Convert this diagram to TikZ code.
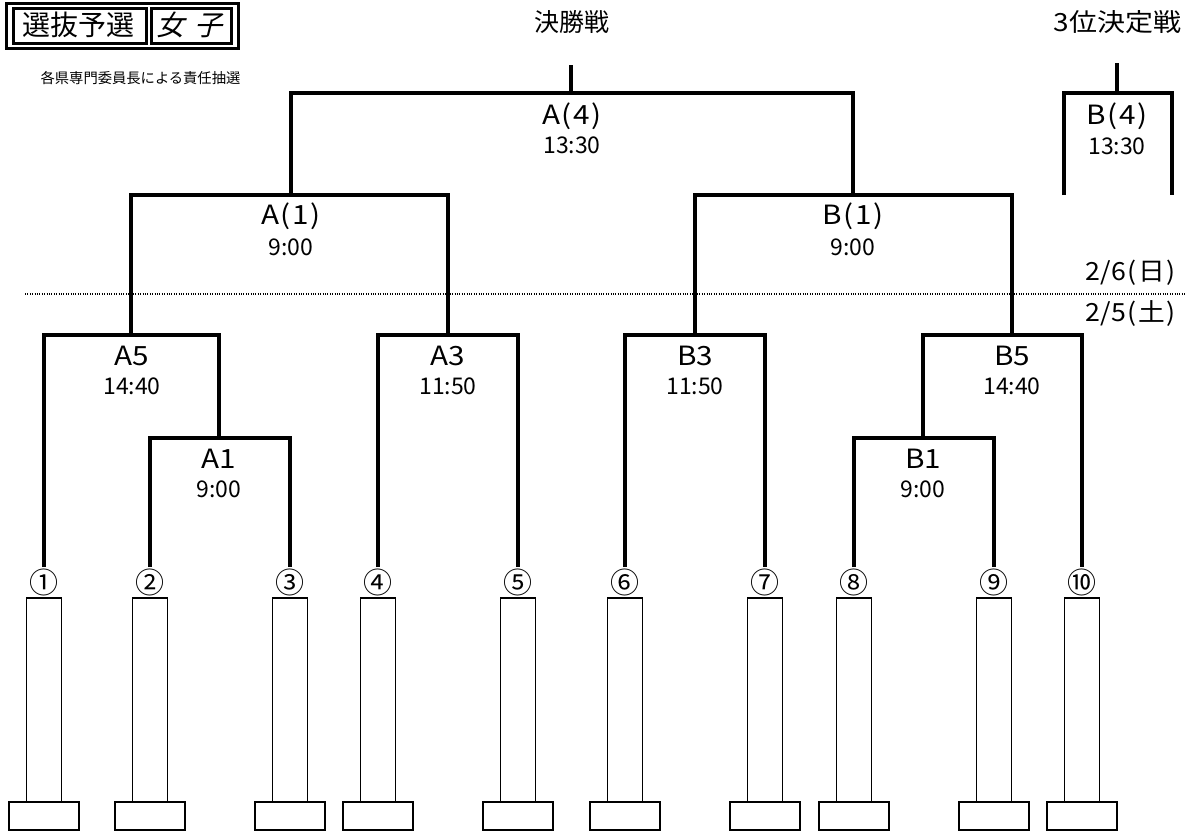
\documentclass[tikz,border=0pt]{standalone}
\usepackage{fontspec}
\setmainfont{Noto Sans CJK JP}
\newcommand{\pl}{\kern1.5pt(\kern1.5pt}
\newcommand{\pr}{\kern1.5pt)}
\begin{document}
\begin{tikzpicture}[x=1pt,y=-1pt,
  br/.style={line width=3.2pt},
  thinbox/.style={line width=1.3pt},
  lbl/.style={font=\fontsize{26.5}{28}\selectfont, inner sep=0pt, xscale=1.12},
  tm/.style={font=\fontsize{23}{25}\selectfont, inner sep=0pt},
  head/.style={font=\fontsize{25}{27}\selectfont, inner sep=0pt},
  datefont/.style={font=\fontsize{25}{27}\selectfont, inner sep=0pt, xscale=1.07},
  num/.style={font=\fontsize{29}{31}\selectfont, inner sep=0pt},
  frame/.style={line width=3.3pt}]
\useasboundingbox (0,0) rectangle (1186,832);

% title
\draw[frame] (6.7,3.3) rectangle (238.3,48.3);
\draw[frame] (13.3,8.3) rectangle (146.7,43.3);
\draw[frame] (151.7,8.3) rectangle (231.7,43.3);
\node[font=\fontsize{28}{30}\selectfont, inner sep=0pt] (t1) at (79,25) {選抜予選};
\node[font=\fontsize{28}{30}\selectfont, inner sep=0pt, xslant=0.25] (t2) at (192,25) {女\hspace{0.35em}子};
\node[font=\fontsize{14.3}{16}\selectfont, inner sep=0pt] (sub) at (140.5,78) {各県専門委員長による責任抽選};

% headings
\node[head] (hfinal) at (572,22) {決勝戦};
\node[head, xscale=1.12] (hthird) at (1117.5,22) {3位決定戦};

% dates and day line
\node[datefont, anchor=east] (d6) at (1176,273) {2/6\pl 日\pr};
\node[datefont, anchor=east] (d5) at (1176,313) {2/5\pl 土\pr};
\coordinate (dl) at (25,294);
\coordinate (dr) at (1186,294);
\draw[line width=2pt, dash pattern=on 1pt off 1.4pt] (dl) -- (dr);

% leaves
\foreach \i/\x/\s in {1/44/①,2/150/②,3/290/③,4/378/④,5/518/⑤,6/625/⑥,7/765/⑦,8/854/⑧,9/994/⑨,10/1082/⑩}{
  \coordinate (L\i) at (\x,567);
  \node[num] (n\i) at (\x,582) {\s};
  \draw[thinbox] (\x-17.5,598) rectangle (\x+17.5,802);
  \draw[thinbox] (\x-35,802) rectangle (\x+35,830);
}

% match junctions
\coordinate (A1) at (219,438);
\coordinate (A5) at (131,335);
\coordinate (A3) at (448,335);
\coordinate (B3) at (695,335);
\coordinate (B1) at (923,438);
\coordinate (B5) at (1012,335);
\coordinate (QA) at (291,195);
\coordinate (QB) at (853,195);
\coordinate (F) at (571,93);
\coordinate (Ftop) at (571,65);
\coordinate (T) at (1117,93);
\coordinate (Ttop) at (1117,63);
\coordinate (TL) at (1064,195);
\coordinate (TR) at (1172,195);

\draw[br] (L2) |- (A1) -| (L3);
\draw[br] (L1) |- (A5) -| (A1);
\draw[br] (L4) |- (A3) -| (L5);
\draw[br] (L6) |- (B3) -| (L7);
\draw[br] (L8) |- (B1) -| (L9);
\draw[br] (B1) |- (B5) -| (L10);
\draw[br] (A5) |- (QA) -| (A3);
\draw[br] (B3) |- (QB) -| (B5);
\draw[br] (QA) |- (F) -| (QB);
\draw[br] (F) -- (Ftop);
\draw[br] (TL) |- (T) -| (TR);
\draw[br] (T) -- (Ttop);

% match labels
\node[lbl] (lF) at (572,116) {A\pl 4\pr};
\node[tm] (tF) at (572,145) {13:30};
\node[lbl] (lT) at (1117,116) {B\pl 4\pr};
\node[tm] (tT) at (1117,146) {13:30};
\node[lbl] (lQA) at (291,216) {A\pl 1\pr};
\node[tm] (tQA) at (291,247) {9:00};
\node[lbl] (lQB) at (853,216) {B\pl 1\pr};
\node[tm] (tQB) at (853,247) {9:00};
\node[lbl] (lA5) at (132,356) {A5};
\node[tm] (tA5) at (132,386) {14:40};
\node[lbl] (lA3) at (448,356) {A3};
\node[tm] (tA3) at (448,386) {11:50};
\node[lbl] (lB3) at (695,356) {B3};
\node[tm] (tB3) at (695,386) {11:50};
\node[lbl] (lB5) at (1012,356) {B5};
\node[tm] (tB5) at (1012,386) {14:40};
\node[lbl] (lA1) at (219,459) {A1};
\node[tm] (tA1) at (219,489) {9:00};
\node[lbl] (lB1) at (923,459) {B1};
\node[tm] (tB1) at (923,489) {9:00};
\end{tikzpicture}
\end{document}
